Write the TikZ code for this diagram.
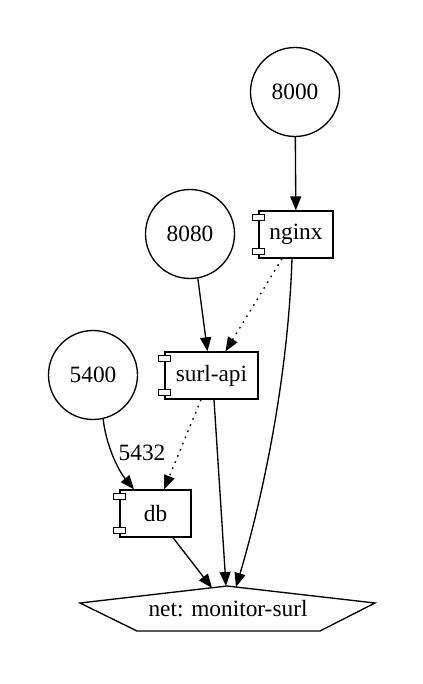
\documentclass[tikz,border=0pt]{standalone}
\usepackage{fontspec}
\setmainfont{Liberation Serif}
\usetikzlibrary{arrows.meta,calc}
\begin{document}
\begin{tikzpicture}[x=0.6pt,y=-0.6pt,
  every node/.style={font=\fontsize{14}{16}\selectfont},
  port/.style={draw, circle, line width=0.8pt, minimum size=53.4pt, inner sep=0pt},
  svc/.style={draw, rectangle, line width=0.8pt, minimum height=28.2pt, inner sep=0pt},
  tab/.style={draw, fill=white, line width=0.8pt},
  link/.style={line width=0.8pt, -{Triangle[length=8.4pt,width=6.6pt]}},
  weak/.style={link, dash pattern=on 1pt off 3pt},
]
\useasboundingbox (0,0) rectangle (423,684);

% published ports
\node[port] (p8000) at (295,92) {8000};
\node[port] (p8080) at (190,234) {8080};
\node[port] (p5400) at (93,375) {5400};

% services
\node[svc, minimum width=44.4pt] (nginx) at (296,234.5) {nginx};
\node[svc, minimum width=55.8pt] (api) at (211.5,375.5) {surl-api};
\node[svc, minimum width=42.6pt] (db) at (155.5,513.5) {db};
\foreach \n in {nginx,api,db} {
  \draw[tab] ($(\n.north west)+(-6,4)$) rectangle ++(12,6);
  \draw[tab] ($(\n.south west)+(-6,-10)$) rectangle ++(12,6);
}

% network
\node (net) at (228,609) {net: monitor-surl};
\draw[line width=0.8pt, shift={(net)}]
  (-1,-23) -- (147,-6) -- (92,22) -- (-91,22) -- (-148,-6) -- cycle;
\coordinate (netL) at ($(net)+(-16,-21)$);
\coordinate (netM) at ($(net)+(-2,-23)$);
\coordinate (netR) at ($(net)+(8,-22)$);

% connections
\draw[link] (p8000) -- (nginx);
\draw[link] (p8080.-80) -- ($(api.north)+(-4,0)$);
\draw[weak] ($(nginx.south)+(-14,0)$) -- ($(api.north)+(14,0)$);
\draw[link] ($(nginx.south)+(-4,0)$) .. controls (288,380) and (262,500) .. (netR);
\draw[link] ($(api.south)+(2.5,0)$) -- (netM);
\draw[weak] ($(api.south)+(-10.5,0)$) -- ($(db.north)+(8.5,0)$);
\draw[link] (p5400.-77) .. controls (106,445) and (118,470) .. ($(db.north)+(-21.5,0)$);
\node (lbl) at (142,453) {5432};
\draw[link] ($(db.south)+(17.5,0)$) -- (netL);
\end{tikzpicture}
\end{document}
